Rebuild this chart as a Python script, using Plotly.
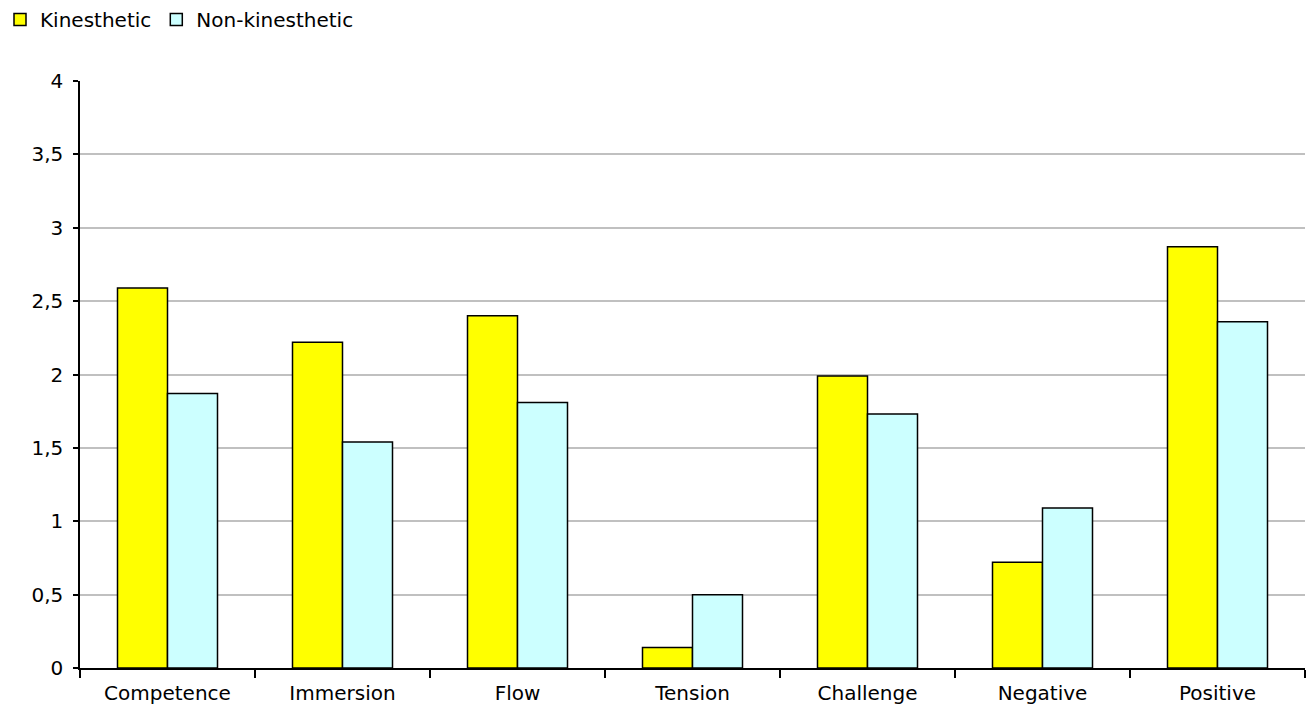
import plotly.graph_objects as go

categories = ["Competence", "Immersion", "Flow", "Tension", "Challenge", "Negative", "Positive"]
kinesthetic = [2.59, 2.22, 2.40, 0.14, 1.99, 0.72, 2.87]
non_kinesthetic = [1.87, 1.54, 1.81, 0.50, 1.73, 1.09, 2.36]
y_ticks = [0, 0.5, 1, 1.5, 2, 2.5, 3, 3.5, 4]
y_tick_labels = ["0", "0,5", "1", "1,5", "2", "2,5", "3", "3,5", "4"]

FONT = "DejaVu Sans, Verdana, sans-serif"

fig = go.Figure()
fig.add_trace(go.Bar(
    name="Kinesthetic", x=categories, y=kinesthetic,
    marker=dict(color="#FFFF00", line=dict(color="#000000", width=1.5)),
))
fig.add_trace(go.Bar(
    name="Non-kinesthetic", x=categories, y=non_kinesthetic,
    marker=dict(color="#CCFFFF", line=dict(color="#000000", width=1.5)),
))

fig.update_layout(
    width=1313, height=715,
    margin=dict(l=80, r=8, t=81, b=47),
    paper_bgcolor="white", plot_bgcolor="white",
    barmode="group", bargap=0.4286, bargroupgap=0,
    font=dict(family=FONT, size=20, color="#000000"),
    showlegend=True,
    legend=dict(
        orientation="h", x=0, y=1, xref="container", yref="container",
        xanchor="left", yanchor="top",
        font=dict(family=FONT, size=20),
        itemwidth=30, tracegroupgap=0,
        bgcolor="rgba(0,0,0,0)",
    ),
    xaxis=dict(
        showline=True, linecolor="#000000", linewidth=1.5,
        ticks="outside", tickson="boundaries", ticklen=8, tickcolor="#000000",
        tickwidth=1.5, showgrid=False, ticklabelstandoff=6,
        tickfont=dict(family=FONT, size=20),
    ),
    yaxis=dict(
        range=[0, 4], tickvals=y_ticks, ticktext=y_tick_labels,
        showline=True, linecolor="#000000", linewidth=1.5,
        ticks="outside", ticklen=5, tickcolor="#000000", tickwidth=1.5,
        showgrid=True, gridcolor="#C0C0C0", gridwidth=1.5,
        zeroline=False, ticklabelstandoff=6,
        tickfont=dict(family=FONT, size=20),
    ),
)

fig.write_html("out.html")
